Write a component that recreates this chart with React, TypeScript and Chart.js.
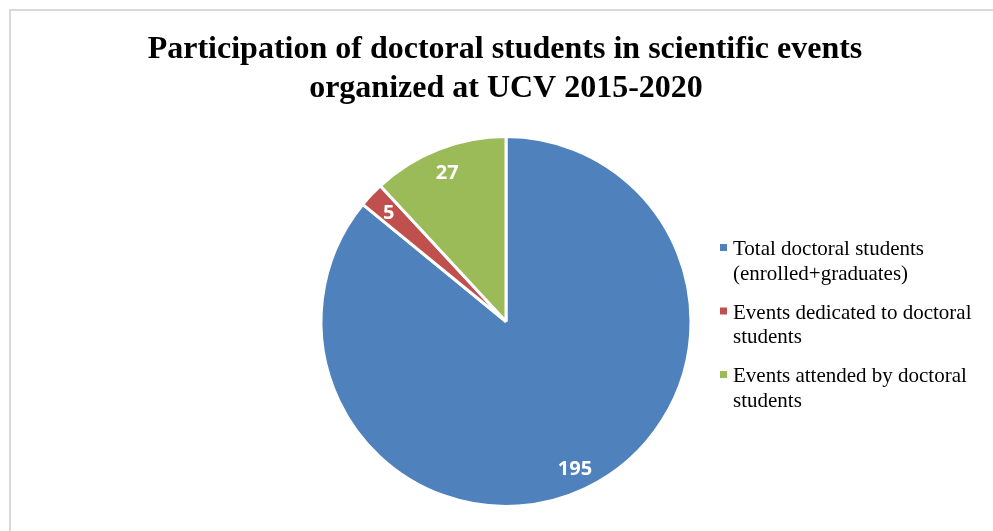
import React, { useEffect, useRef } from "react";
import { Chart, registerables } from "chart.js";

Chart.register(...registerables);

const categories: string[][] = [
  ["Total doctoral students", "(enrolled+graduates)"],
  ["Events dedicated to doctoral", "students"],
  ["Events attended by doctoral", "students"],
];
const values: number[] = [195, 5, 27];
const colors: string[] = ["#4F81BD", "#C0504D", "#9BBB59"];
const titleLines: string[] = [
  "Participation of doctoral students in scientific events",
  "organized at UCV 2015-2020",
];

const overlayPlugin = {
  id: "overlay",
  afterDraw(chart: any) {
    const ctx = chart.ctx as CanvasRenderingContext2D;
    ctx.save();
    // title
    ctx.fillStyle = "#000000";
    ctx.font = "bold 32px 'Liberation Serif', 'Times New Roman', serif";
    ctx.textAlign = "center";
    ctx.textBaseline = "alphabetic";
    ctx.fillText(titleLines[0], 505, 58);
    ctx.fillText(titleLines[1], 506, 97);

    // data labels
    const meta = chart.getDatasetMeta(0);
    ctx.font = "bold 20px 'Open Sans', 'DejaVu Sans', sans-serif";
    ctx.fillStyle = "#ffffff";
    ctx.textBaseline = "middle";
    meta.data.forEach((arc: any, i: number) => {
      const p = arc.getProps(["x", "y", "startAngle", "endAngle", "outerRadius"], true);
      const mid = (p.startAngle + p.endAngle) / 2;
      const r = p.outerRadius * 0.87;
      ctx.fillText(String(values[i]), p.x + Math.cos(mid) * r, p.y + Math.sin(mid) * r + 2);
    });

    // legend
    ctx.textAlign = "left";
    ctx.textBaseline = "alphabetic";
    ctx.font = "21px 'Liberation Serif', 'Times New Roman', serif";
    const lx = 720;
    let y = 255;
    categories.forEach((lines, i) => {
      ctx.fillStyle = colors[i];
      ctx.fillRect(lx, y - 11, 7, 7);
      ctx.fillStyle = "#000000";
      lines.forEach((t, j) => {
        ctx.fillText(t, lx + 13, y + j * 24.5);
      });
      y += 63.5;
    });
    ctx.restore();
  },
};

export default function App() {
  const ref = useRef<HTMLCanvasElement | null>(null);
  useEffect(() => {
    document.body.style.margin = "0";
    const chart = new Chart(ref.current as HTMLCanvasElement, {
      type: "pie",
      data: {
        labels: categories.map((c) => c.join(" ")),
        datasets: [
          {
            data: values,
            backgroundColor: colors,
            borderColor: "#ffffff",
            borderWidth: 3,
          },
        ],
      },
      options: {
        responsive: false,
        animation: false,
        layout: { padding: { top: 135, bottom: 23, left: 319, right: 300 } },
        plugins: {
          legend: { display: false },
          title: { display: false },
          tooltip: { enabled: false },
        },
      },
      plugins: [overlayPlugin],
    });
    return () => chart.destroy();
  }, []);
  return (
    <div style={{ position: "relative", width: 993, height: 531, background: "#ffffff", overflow: "hidden" }}>
      <div
        style={{
          position: "absolute",
          left: 9,
          top: 9,
          width: 1100,
          height: 600,
          border: "2px solid #d9d9d9",
          boxSizing: "border-box",
        }}
      />
      <canvas ref={ref} width={993} height={531} style={{ position: "absolute", left: 0, top: 0 }} />
    </div>
  );
}
